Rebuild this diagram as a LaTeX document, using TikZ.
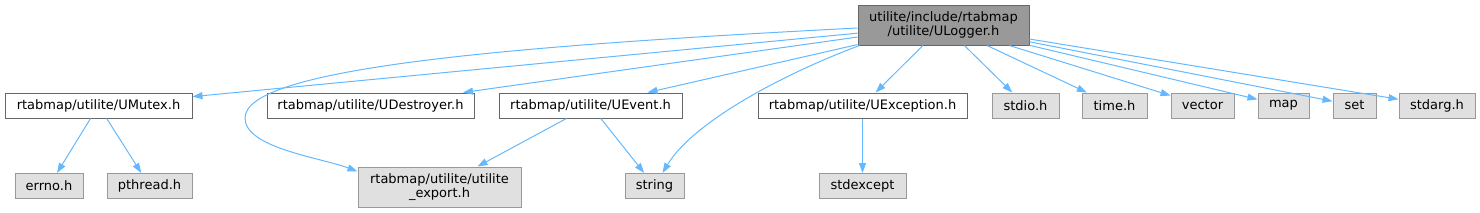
\documentclass[tikz,border=0pt]{standalone}
\usepackage{fontspec}
\setmainfont{DejaVu Sans}
\usetikzlibrary{arrows.meta}
\definecolor{edgeblue}{HTML}{63B8FF}
\definecolor{rootfill}{HTML}{999999}
\definecolor{rootline}{HTML}{666666}
\definecolor{extfill}{HTML}{E0E0E0}
\definecolor{extline}{HTML}{999999}
\tikzset{
  filebox/.style={draw=rootline, fill=white, line width=1pt, minimum height=25pt,
                  inner sep=0pt, align=center, font=\fontsize{13}{14.5}\selectfont},
  rootbox/.style={filebox, fill=rootfill, minimum height=40pt},
  extbox/.style={filebox, fill=extfill, draw=extline},
  dep/.style={edgeblue, line width=1pt, -{Triangle[length=10pt,width=7pt]}},
}
\begin{document}
\begin{tikzpicture}[x=1pt, y=-1pt]
    \useasboundingbox (0,0) rectangle (1480,212);
    % top file
    \node[rootbox, minimum width=171pt] (root) at (943.5, 25) {utilite/include/rtabmap\\/utilite/ULogger.h};
    % first level
    \node[filebox, minimum width=187pt] (umutex) at (98.5, 105.5) {rtabmap/utilite/UMutex.h};
    \node[filebox, minimum width=207pt] (udestroyer) at (370.5, 105.5) {rtabmap/utilite/UDestroyer.h};
    \node[filebox, minimum width=183pt] (uevent) at (590.5, 105.5) {rtabmap/utilite/UEvent.h};
    \node[filebox, minimum width=209pt] (uexception) at (862.5, 105.5) {rtabmap/utilite/UException.h};
    \node[extbox, minimum width=67pt] (stdio) at (1025.5, 105.5) {stdio.h};
    \node[extbox, minimum width=65pt] (timeh) at (1114.5, 105.5) {time.h};
    \node[extbox, minimum width=63pt] (vector) at (1202.5, 105.5) {vector};
    \node[extbox, minimum width=51pt] (map) at (1283.5, 105.5) {map};
    \node[extbox, minimum width=43pt] (set) at (1354.5, 105.5) {set};
    \node[extbox, minimum width=76pt] (stdarg) at (1437, 105.5) {stdarg.h};
    % second level
    \node[extbox, minimum width=68pt] (errno) at (49, 186) {errno.h};
    \node[extbox, minimum width=85pt] (pthread) at (149.5, 186) {pthread.h};
    \node[extbox, minimum width=163pt, minimum height=40pt] (export) at (439.5, 187) {rtabmap/utilite/utilite\\\_export.h};
    \node[extbox, minimum width=59pt] (string) at (654.5, 186) {string};
    \node[extbox, minimum width=87pt] (stdexcept) at (862.5, 186) {stdexcept};
    \coordinate (exportbend) at (245, 118);

    \foreach \dst in {umutex, udestroyer, uevent, uexception, stdio, timeh, vector, map, set, stdarg}
      \draw[dep] (root) -- (\dst);
    \draw[dep] ([yshift=-3pt]root.west) .. controls +(-350,18) and +(0,-50) .. (exportbend)
               .. controls +(0,30) and +(-37,-14) .. ([yshift=-5pt]export.north west);
    \draw[dep] ([xshift=2pt]root.south west) .. controls +(-80,30) and +(30,-50) .. ([xshift=8pt]string.north);
    \draw[dep] (umutex) -- (errno);
    \draw[dep] (umutex) -- (pthread);
    \draw[dep] (uevent) -- (export);
    \draw[dep] (uevent) -- (string);
    \draw[dep] (uexception) -- (stdexcept);
  \end{tikzpicture}
\end{document}
